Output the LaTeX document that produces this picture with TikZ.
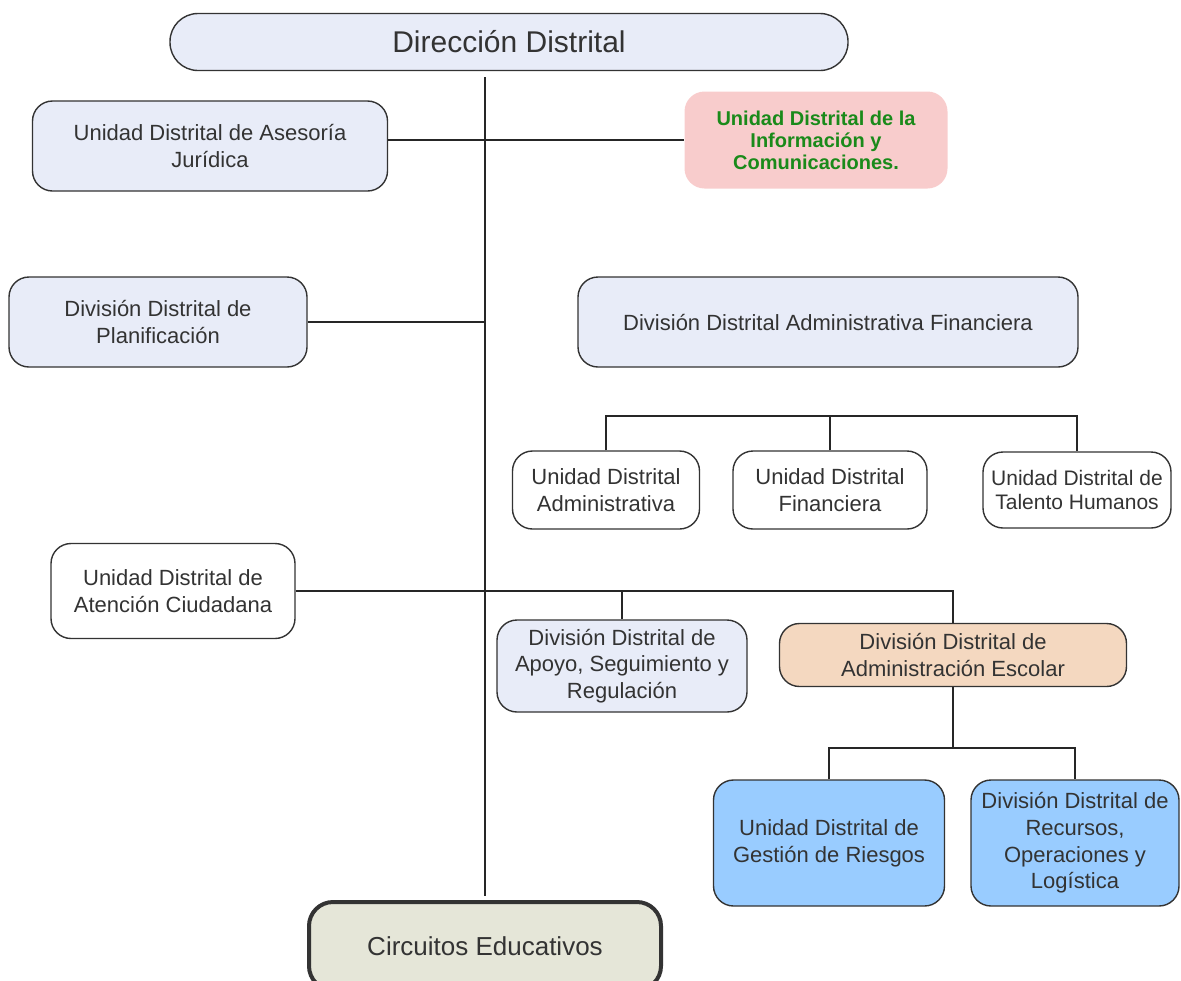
\documentclass[tikz,border=0pt]{standalone}
\usepackage{fontspec}
\setmainfont{Liberation Sans}
\usetikzlibrary{positioning}
\definecolor{lav}{HTML}{E8ECF8}
\definecolor{rosa}{HTML}{F8CCCC}
\definecolor{verde}{HTML}{1A8A1A}
\definecolor{durazno}{HTML}{F4D8C0}
\definecolor{celeste}{HTML}{99CCFF}
\definecolor{beige}{HTML}{E5E6D8}
\begin{document}
\begin{tikzpicture}[x=0.5pt, y=-0.5pt,
    box/.style={draw=black!80, line width=0.7pt, rounded corners=10pt, align=center,
        inner sep=0pt, text=black!80, font=\fontsize{11}{13.3}\selectfont},
    link/.style={draw=black!85, line width=0.6pt}]
    \useasboundingbox (0,0) rectangle (1181,980);
    \clip (0,0) rectangle (1181,980);
    \node[box, fill=lav, minimum width=339pt, minimum height=28.5pt, rounded corners=14pt,
        font=\fontsize{15}{18}\selectfont] (dir) at (509,42) {Dirección Distrital};
    \node[box, fill=lav, minimum width=177.5pt, minimum height=45pt] (jur) at (210,146)
        {Unidad Distrital de Asesoría\\Jurídica};
    \node[box, draw=none, fill=rosa, minimum width=131.5pt, minimum height=48.5pt,
        font=\fontsize{10}{11}\selectfont\bfseries, text=verde] (tic) at (816,140)
        {Unidad Distrital de la\\Información y\\Comunicaciones.};
    \node[box, fill=lav, minimum width=149pt, minimum height=45pt] (plan) at (158,322)
        {División Distrital de\\Planificación};
    \node[box, fill=lav, minimum width=250pt, minimum height=45pt] (adfin) at (828,322)
        {División Distrital Administrativa Financiera};
    \node[box, fill=white, minimum width=93.5pt, minimum height=39pt] (uadm) at (606,490)
        {Unidad Distrital\\Administrativa};
    \node[box, fill=white, minimum width=97pt, minimum height=39pt] (ufin) at (830,490)
        {Unidad Distrital\\Financiera};
    \node[box, fill=white, minimum width=94pt, minimum height=38pt,
        font=\fontsize{10.5}{12}\selectfont] (utal) at (1077,490)
        {Unidad Distrital de\\Talento Humanos};
    \node[box, fill=white, minimum width=122pt, minimum height=47.5pt] (aten) at (173,591)
        {Unidad Distrital de\\Atención Ciudadana};
    \node[box, fill=lav, minimum width=125pt, minimum height=46pt] (apoyo) at (622,666)
        {División Distrital de\\Apoyo, Seguimiento y\\Regulación};
    \node[box, fill=durazno, minimum width=173.5pt, minimum height=31.5pt] (escolar) at (953,655)
        {División Distrital de\\Administración Escolar};
    \node[box, fill=celeste, minimum width=115.5pt, minimum height=63pt] (riesgos) at (829,843)
        {Unidad Distrital de\\Gestión de Riesgos};
    \node[box, fill=celeste, minimum width=104pt, minimum height=63pt] (recursos) at (1075,843)
        {División Distrital de\\Recursos,\\Operaciones y\\Logística};
    \node[box, fill=beige, line width=2pt, rounded corners=12pt, minimum width=176pt,
        minimum height=44pt, font=\fontsize{13}{15}\selectfont] (circ) at (485,946)
        {Circuitos Educativos};
    % tronco central
    \coordinate (barfin) at (0,416);
    \coordinate (baresc) at (0,748);
    \draw[link] ([yshift=-3pt]dir.south -| circ.north) -- ([yshift=2pt]circ.north);
    \draw[link] (jur.east |- tic.west) -- (tic.west);
    \draw[link] (plan.east) -- (plan.east -| circ.north);
    \draw[link] (uadm.north) -- (uadm.north |- barfin) -- (utal.north |- barfin) -- (utal.north);
    \draw[link] (ufin.north) -- (ufin.north |- barfin);
    \draw[link] (aten.east) -- (aten.east -| escolar.north) -- (escolar.north);
    \draw[link] (apoyo.north) -- (apoyo.north |- aten.east);
    \draw[link] (escolar.south) -- (escolar.south |- baresc);
    \draw[link] (riesgos.north) -- (riesgos.north |- baresc) -- (recursos.north |- baresc) -- (recursos.north);
\end{tikzpicture}
\end{document}
